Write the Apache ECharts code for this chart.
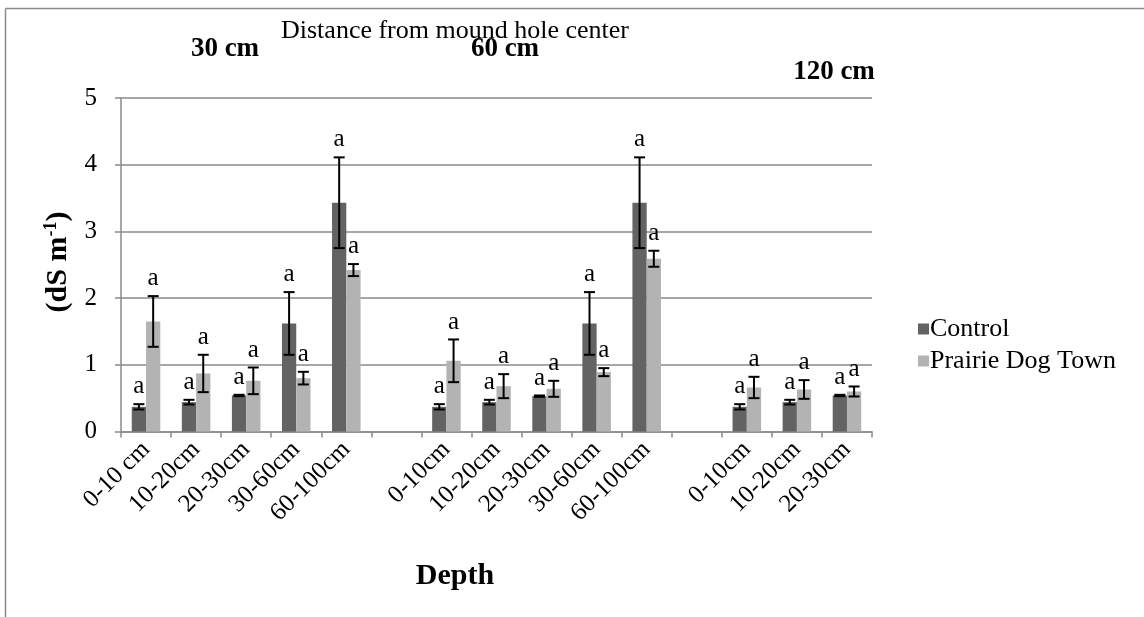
<!DOCTYPE html>
<html>
<head>
<meta charset="utf-8">
<script src="https://cdn.jsdelivr.net/npm/echarts@6/dist/echarts.min.js"></script>
<style>
  html, body { margin: 0; padding: 0; background: #fff; }
  #chart { width: 1144px; height: 617px; }
</style>
</head>
<body>
<div id="chart"></div>
<script>
// Depth classes, grouped by distance from the mound hole (blank slots separate groups)
const categories = [
  '0-10 cm', '10-20cm', '20-30cm', '30-60cm', '60-100cm', '',
  '0-10cm', '10-20cm', '20-30cm', '30-60cm', '60-100cm', '',
  '0-10cm', '10-20cm', '20-30cm'
];
const groupTitles = ['30 cm', '60 cm', '120 cm'];

// Electrical conductivity (dS m-1), mean and standard error
const controlValues = [0.37, 0.44, 0.54, 1.62, 3.43, null, 0.37, 0.44, 0.53, 1.62, 3.43, null, 0.37, 0.44, 0.54];
const controlErrors = [0.04, 0.035, 0.01, 0.47, 0.68, null, 0.04, 0.035, 0.01, 0.47, 0.68, null, 0.04, 0.035, 0.01];
const pdtValues     = [1.65, 0.87, 0.76, 0.80, 2.42, null, 1.06, 0.68, 0.64, 0.89, 2.59, null, 0.66, 0.63, 0.60];
const pdtErrors     = [0.38, 0.28, 0.20, 0.095, 0.09, null, 0.32, 0.18, 0.12, 0.06, 0.12, null, 0.16, 0.14, 0.075];

// Significance letters over each bar
const controlLetters = ['a', 'a', 'a', 'a', 'a', '', 'a', 'a', 'a', 'a', 'a', '', 'a', 'a', 'a'];
const pdtLetters     = ['a', 'a', 'a', 'a', 'a', '', 'a', 'a', 'a', 'a', 'a', '', 'a', 'a', 'a'];

const yTicks = [0, 1, 2, 3, 4, 5];

const SERIF = '"Liberation Serif", "Times New Roman", serif';
const GRID_COLOR = '#8a8a8a';
const CAT_GAP = 0.43;

function errorSeries(values, errors, letters, side) {
  return {
    type: 'custom',
    name: side < 0 ? 'Control error' : 'Prairie Dog Town error',
    data: values.map((v, i) => [i, v, errors[i], letters[i]]),
    z: 5,
    renderItem: function (params, api) {
      const v = api.value(1);
      if (v == null || isNaN(v)) return null;
      const e = api.value(2);
      const band = api.size([1, 0])[0];
      const barW = band * (1 - CAT_GAP) / 2;
      const c = api.coord([api.value(0), v]);
      const x = c[0] + side * barW / 2;
      const hi = api.coord([api.value(0), v + e])[1];
      const lo = api.coord([api.value(0), v - e])[1];
      const cap = 5.5;
      const st = { stroke: '#000', lineWidth: 2 };
      return {
        type: 'group',
        children: [
          { type: 'line', shape: { x1: x, y1: hi, x2: x, y2: lo }, style: st },
          { type: 'line', shape: { x1: x - cap, y1: hi, x2: x + cap, y2: hi }, style: st },
          { type: 'line', shape: { x1: x - cap, y1: lo, x2: x + cap, y2: lo }, style: st },
          {
            type: 'text',
            x: x, y: hi - 5,
            style: {
              text: api.value(3),
              fill: '#000',
              font: '25px ' + SERIF,
              align: 'center',
              verticalAlign: 'bottom'
            }
          }
        ]
      };
    }
  };
}

const chart = echarts.init(document.getElementById('chart'), null, { renderer: 'canvas' });

chart.setOption({
  backgroundColor: '#fff',
  animation: false,
  textStyle: { fontFamily: SERIF, color: '#000' },
  grid: { left: 121, right: 272, top: 98, bottom: 185.5, containLabel: false },
  legend: {
    data: ['Control', 'Prairie Dog Town'],
    orient: 'vertical',
    left: 913,
    top: 311,
    itemWidth: 11,
    itemHeight: 11,
    itemGap: 6,
    icon: 'rect',
    textStyle: { fontFamily: SERIF, fontSize: 26, color: '#000', padding: [0, 0, 0, -4] }
  },
  xAxis: {
    type: 'category',
    data: categories,
    axisLine: { lineStyle: { color: GRID_COLOR, width: 1.5 } },
    axisTick: { show: true, interval: 0, length: 6, lineStyle: { color: GRID_COLOR, width: 1.5 } },
    axisLabel: {
      interval: 0,
      rotate: 45,
      margin: 14,
      fontFamily: SERIF,
      fontSize: 25,
      color: '#000'
    },
    splitLine: { show: false }
  },
  yAxis: {
    type: 'value',
    min: yTicks[0],
    max: yTicks[yTicks.length - 1],
    interval: 1,
    axisLine: { show: true, lineStyle: { color: GRID_COLOR, width: 1.5 } },
    axisTick: { show: true, length: 6, lineStyle: { color: GRID_COLOR, width: 1.5 } },
    axisLabel: { fontFamily: SERIF, fontSize: 25, color: '#000', margin: 24 },
    splitLine: { show: true, lineStyle: { color: GRID_COLOR, width: 1.5 } }
  },
  series: [
    {
      name: 'Control',
      type: 'bar',
      data: controlValues,
      itemStyle: { color: '#636363' },
      barGap: '0%',
      barCategoryGap: (CAT_GAP * 100) + '%'
    },
    {
      name: 'Prairie Dog Town',
      type: 'bar',
      data: pdtValues,
      itemStyle: { color: '#b3b3b3' }
    },
    errorSeries(controlValues, controlErrors, controlLetters, -1),
    errorSeries(pdtValues, pdtErrors, pdtLetters, 1)
  ],
  graphic: [
    // chart frame (top and left edges)
    { type: 'line', shape: { x1: 5.5, y1: 8.5, x2: 1144, y2: 8.5 }, style: { stroke: '#8a8a8a', lineWidth: 1.5 } },
    { type: 'line', shape: { x1: 5.5, y1: 8.5, x2: 5.5, y2: 617 }, style: { stroke: '#8a8a8a', lineWidth: 1.5 } },
    {
      type: 'text', x: 455, y: 31,
      style: { text: 'Distance from mound hole center', font: '26px ' + SERIF, fill: '#000', align: 'center', verticalAlign: 'middle' }
    },
    {
      type: 'text', x: 225, y: 49,
      style: { text: groupTitles[0], font: 'bold 27px ' + SERIF, fill: '#000', align: 'center', verticalAlign: 'middle' }
    },
    {
      type: 'text', x: 505, y: 49,
      style: { text: groupTitles[1], font: 'bold 27px ' + SERIF, fill: '#000', align: 'center', verticalAlign: 'middle' }
    },
    {
      type: 'text', x: 834, y: 72,
      style: { text: groupTitles[2], font: 'bold 27px ' + SERIF, fill: '#000', align: 'center', verticalAlign: 'middle' }
    },
    {
      type: 'text', x: 455, y: 576,
      style: { text: 'Depth', font: 'bold 30px ' + SERIF, fill: '#000', align: 'center', verticalAlign: 'middle' }
    },
    {
      type: 'text', x: 58, y: 262, rotation: Math.PI / 2,
      style: {
        text: '{b|(dS m}{s|-1}{b|)}',
        align: 'center',
        verticalAlign: 'middle',
        fill: '#000',
        rich: {
          b: { fontFamily: SERIF, fontWeight: 'bold', fontSize: 30, lineHeight: 32 },
          s: { fontFamily: SERIF, fontWeight: 'bold', fontSize: 18, lineHeight: 18, verticalAlign: 'top' }
        }
      }
    }
  ]
});
</script>
</body>
</html>
